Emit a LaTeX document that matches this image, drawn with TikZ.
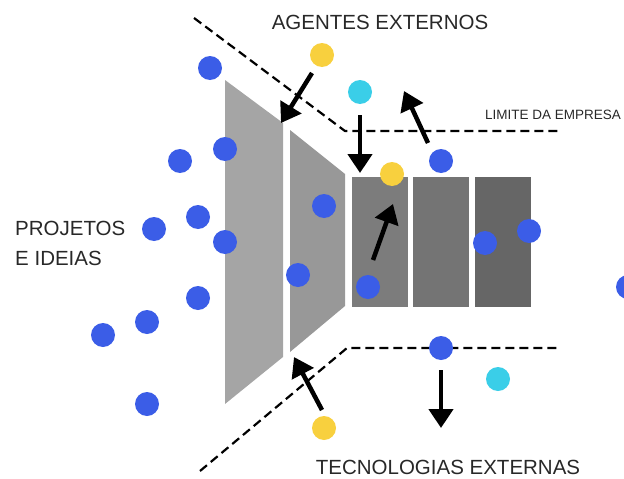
\documentclass[tikz,border=0pt]{standalone}
\usepackage{fontspec}
\setmainfont{Liberation Sans}
\usepackage{tikz}
\usepackage{xcolor}
\usetikzlibrary{arrows.meta,positioning,calc}

\definecolor{ideablue}{RGB}{59,93,231}
\definecolor{agentyellow}{RGB}{248,208,62}
\definecolor{techcyan}{RGB}{58,206,232}
\definecolor{textgray}{RGB}{40,40,40}
\definecolor{stageA}{RGB}{165,165,165}
\definecolor{stageB}{RGB}{152,152,152}
\definecolor{stageC}{RGB}{124,124,124}
\definecolor{stageD}{RGB}{116,116,116}
\definecolor{stageE}{RGB}{102,102,102}

\begin{document}
\begin{tikzpicture}[x=1pt, y=-1pt,
    dot/.style={circle, inner sep=0pt, minimum size=24pt},
    idea/.style={dot, fill=ideablue},
    agent/.style={dot, fill=agentyellow},
    tech/.style={dot, fill=techcyan},
    flow/.style={-{Triangle[width=24pt,length=19pt]}, line width=4.5pt},
    limit/.style={dash pattern=on 9pt off 5pt, line width=2.2pt},
    bigtext/.style={text=textgray, inner sep=0pt, font=\fontsize{20.5}{30}\selectfont, align=left},
    smalltext/.style={text=textgray, inner sep=0pt, font=\fontsize{13.5}{16}\selectfont}]
    \useasboundingbox (0,0) rectangle (624,479);

    % Funnel stages
    \fill[stageA] (225,80) -- (283,123) -- (283,357) -- (225,404) -- cycle;
    \fill[stageB] (290,130) -- (345,174) -- (345,306) -- (290,352) -- cycle;
    \fill[stageC] (352,177) rectangle (408,307);
    \fill[stageD] (413,177) rectangle (469,307);
    \fill[stageE] (475,177) rectangle (531,307);

    % Company limit
    \draw[limit] (194,18) -- (345,131) -- (560,131);
    \draw[limit] (200,471) -- (347,348) -- (560,348);

    % Texts
    \node[bigtext] (agentes) at (380,22) {AGENTES EXTERNOS};
    \node[smalltext] (limite) at (553,115) {LIMITE DA EMPRESA};
    \node[bigtext, anchor=west] (projetos) at (15,243) {PROJETOS\\E IDEIAS};
    \node[bigtext] (tecnologias) at (448,467) {TECNOLOGIAS EXTERNAS};

    % Ideas
    \node[idea] (idea1) at (210,68) {};
    \node[idea] (idea2) at (180,161) {};
    \node[idea] (idea3) at (225,149) {};
    \node[idea] (idea4) at (154,229) {};
    \node[idea] (idea5) at (198,217) {};
    \node[idea] (idea6) at (225,242) {};
    \node[idea] (idea7) at (198,298) {};
    \node[idea] (idea8) at (147,322) {};
    \node[idea] (idea9) at (103,335) {};
    \node[idea] (idea10) at (147,404) {};
    \node[idea] (idea11) at (324,206) {};
    \node[idea] (idea12) at (298,275) {};
    \node[idea] (idea13) at (368,287) {};
    \node[idea] (idea14) at (441,161) {};
    \node[idea] (idea15) at (485,243) {};
    \node[idea] (idea16) at (529,231) {};
    \node[idea] (idea17) at (628,287) {};
    \node[idea] (idea18) at (441,348) {};

    % External agents and technologies
    \node[agent] (agent1) at (322,55) {};
    \node[agent] (agent2) at (392,174) {};
    \node[agent] (agent3) at (324,428) {};
    \node[tech] (tech1) at (360,92) {};
    \node[tech] (tech2) at (498,379) {};

    % Arrows
    \coordinate (inA) at (312,73);   \coordinate (inAend) at (281,123);
    \coordinate (inB) at (360,115);  \coordinate (inBend) at (360,173);
    \coordinate (outA) at (428,143); \coordinate (outAend) at (404,91);
    \coordinate (up) at (373,260);   \coordinate (upend) at (393,204);
    \coordinate (inC) at (322,410);  \coordinate (inCend) at (294,357);
    \coordinate (outB) at (441,370); \coordinate (outBend) at (441,428);
    \draw[flow] (inA) -- (inAend);
    \draw[flow] (inB) -- (inBend);
    \draw[flow] (outA) -- (outAend);
    \draw[flow] (up) -- (upend);
    \draw[flow] (inC) -- (inCend);
    \draw[flow] (outB) -- (outBend);
\end{tikzpicture}
\end{document}
